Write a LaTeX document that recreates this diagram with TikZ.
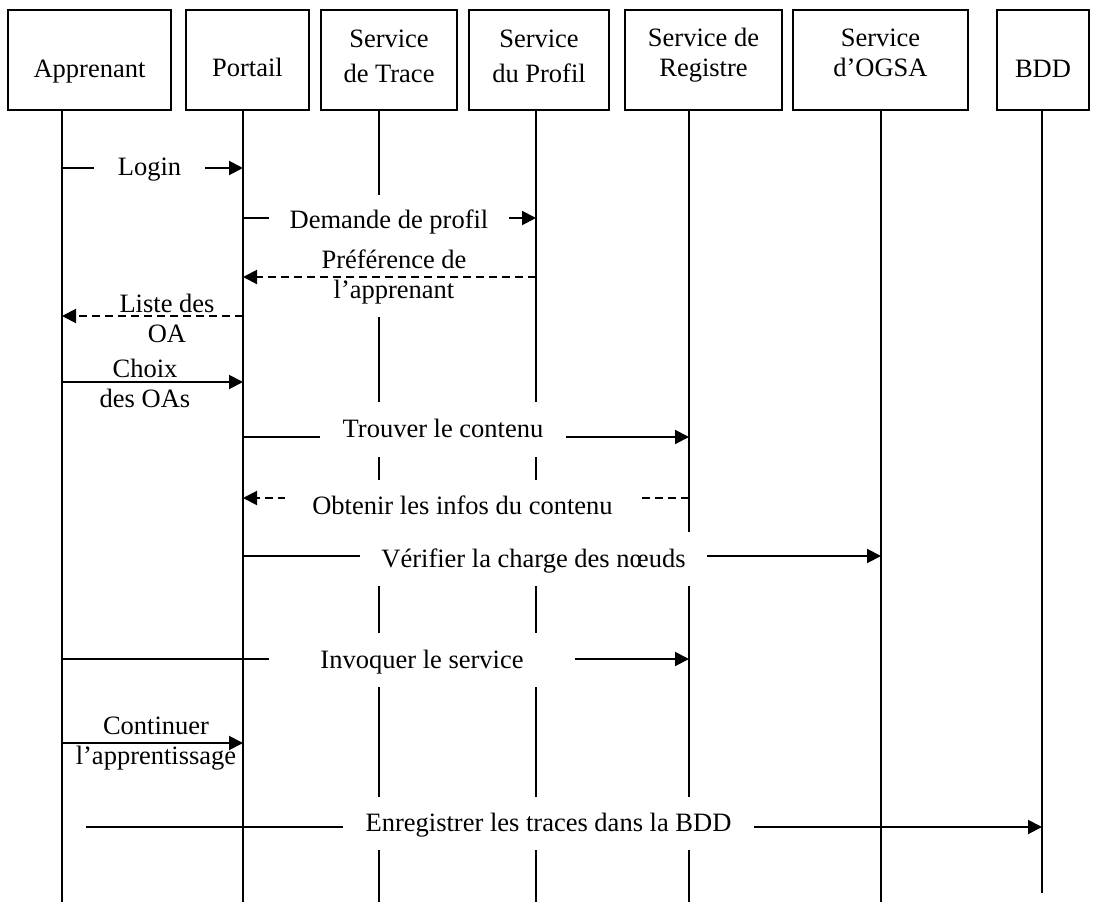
\documentclass[tikz,border=0pt]{standalone}
\usepackage{fontspec}
\setmainfont{Liberation Serif}
\usetikzlibrary{arrows.meta}
\begin{document}
\begin{tikzpicture}[x=1pt,y=-1pt,
  every node/.style={font=\fontsize{26.5}{30}\selectfont},
  actor/.style={draw, line width=1.8pt, inner sep=0pt},
  hdr/.style={anchor=base, inner sep=0pt},
  life/.style={line width=1.6pt},
  msg/.style={line width=2pt, -{Triangle[length=14pt,width=14pt]}},
  reply/.style={msg, dash pattern=on 8pt off 5pt},
  gap/.style={fill=white, inner sep=0pt, text height=17.5pt, text depth=0pt},
  note/.style={align=center, inner sep=0pt},
]
\useasboundingbox (0,0) rectangle (1096,902);

% participants
\node[actor, minimum width=163pt, minimum height=100pt] (app) at (89.5,60) {};
\node[actor, minimum width=123pt, minimum height=100pt] (por) at (247.5,60) {};
\node[actor, minimum width=136pt, minimum height=100pt] (tra) at (389,60) {};
\node[actor, minimum width=140pt, minimum height=100pt] (pro) at (539,60) {};
\node[actor, minimum width=157pt, minimum height=100pt] (reg) at (703.5,60) {};
\node[actor, minimum width=175pt, minimum height=100pt] (ogs) at (880.5,60) {};
\node[actor, minimum width=92pt, minimum height=100pt] (bdd) at (1043,60) {};

\node[hdr] (appT) at (89.5,77) {Apprenant};
\node[hdr] (porT) at (247.5,76) {Portail};
\node[hdr] (traT1) at (389,47) {Service};
\node[hdr] (traT2) at (389,82) {de Trace};
\node[hdr] (proT1) at (539,47) {Service};
\node[hdr] (proT2) at (539,82) {du Profil};
\node[hdr] (regT1) at (703.5,46) {Service de};
\node[hdr] (regT2) at (703.5,76) {Registre};
\node[hdr] (ogsT1) at (880.5,46) {Service};
\node[hdr] (ogsT2) at (880.5,76) {d’OGSA};
\node[hdr] (bddT) at (1043,77) {BDD};

% lifeline ends
\coordinate (LA) at (62,902);
\coordinate (LP) at (243,902);
\coordinate (LT) at (379,902);
\coordinate (LF) at (536,902);
\coordinate (LR) at (689,902);
\coordinate (LO) at (881,902);
\coordinate (LB) at (1042,893);

\draw[life] (app.south -| LA) -- (LA);
\draw[life] (por.south -| LP) -- (LP);
\draw[life] (tra.south -| LT) -- (LT);
\draw[life] (pro.south -| LF) -- (LF);
\draw[life] (reg.south -| LR) -- (LR);
\draw[life] (ogs.south -| LO) -- (LO);
\draw[life] (bdd.south -| LB) -- (LB);

% message heights
\coordinate (m1) at (0,168);
\coordinate (m2) at (0,218);
\coordinate (m3) at (0,277);
\coordinate (m4) at (0,316);
\coordinate (m5) at (0,382);
\coordinate (m6) at (0,437);
\coordinate (m7) at (0,498);
\coordinate (m8) at (0,556);
\coordinate (m9) at (0,659);
\coordinate (m10) at (0,743);
\coordinate (e0) at (86,827);

% messages interrupted by their labels
\draw[msg] (LA |- m1) -- (LP |- m1);
\draw[msg] (LP |- m2) -- (LF |- m2);
\draw[msg] (LP |- m6) -- (LR |- m6);
\draw[reply] (LR |- m7) -- (LP |- m7);
\draw[msg] (LP |- m8) -- (LO |- m8);
\draw[msg] (LA |- m9) -- (LR |- m9);
\draw[msg] (e0) -- (LB |- e0);

\node[gap, minimum width=111pt, minimum height=40pt] (t1) at (149.5,167) {Login};
\node[gap, minimum width=240pt, minimum height=50pt] (t2) at (389,220) {Demande de profil};
\node[note, fill=white, minimum width=200pt, minimum height=80pt] (t3) at (394,277) {Préférence de\\l’apprenant};
\node[gap, minimum width=246pt, minimum height=55pt] (t6) at (443,429) {Trouver le contenu};
\node[gap, minimum width=355pt, minimum height=52pt] (t7) at (462.5,506) {Obtenir les infos du contenu};
\node[gap, minimum width=347pt, minimum height=54pt] (t8) at (533.5,559) {Vérifier la charge des nœuds};
\node[gap, minimum width=306pt, minimum height=54pt] (t9) at (422,660) {Invoquer le service};
\node[gap, minimum width=411pt, minimum height=53pt] (t11) at (548.5,823) {Enregistrer les traces dans la BDD};

% messages running between two label lines
\draw[reply] (LF |- m3) -- (LP |- m3);
\draw[reply] (LP |- m4) -- (LA |- m4);
\draw[msg] (LA |- m5) -- (LP |- m5);
\draw[msg] (LA |- m10) -- (LP |- m10);

\node[note] (t4) at (167,318) {Liste des\\OA};
\node[note] (t5) at (145,383) {Choix\\des OAs};
\node[note] (t10) at (156,744) {Continuer\\l’apprentissage};
\end{tikzpicture}
\end{document}
